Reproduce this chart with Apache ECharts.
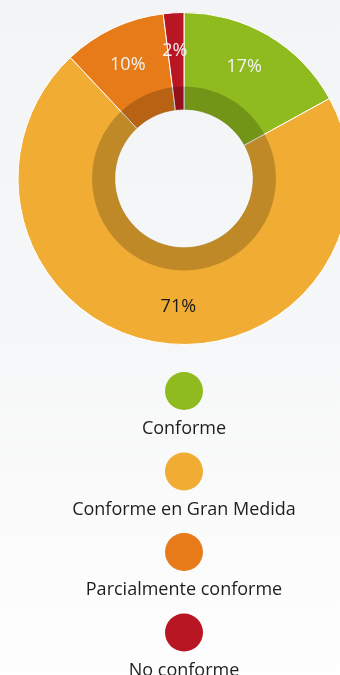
<!DOCTYPE html>
<html>
<head>
<meta charset="utf-8">
<script src="https://cdn.jsdelivr.net/npm/echarts@6/dist/echarts.min.js"></script>
<style>
  html, body { margin: 0; padding: 0; }
  body { background: linear-gradient(to bottom, #f3f4f6 0%, #f6f7f8 50%, #fefefe 100%); }
  #chart { width: 340px; height: 675px; }
</style>
</head>
<body>
<div id="chart"></div>
<script>
// Compliance breakdown (percent of total)
const categories = ['Conforme', 'Conforme en Gran Medida', 'Parcialmente conforme', 'No conforme'];
const values = [17, 71, 10, 2];
const colors = ['#8fbb1f', '#f1ac33', '#e77b19', '#b81623'];
const labelColors = ['#f2f2f2', '#1a1a1a', '#f2f2f2', '#f2f2f2'];
const labelOffsets = [[-7, 2], [15, -2], [0, 6], [-1, 4]];

const cx = 184, cy = 178.5;
const fontFamily = '"Open Sans", "Noto Sans", sans-serif';

const sliceData = categories.map((name, i) => ({
  name, value: values[i], itemStyle: { color: colors[i] }
}));

const labelData = categories.map((name, i) => ({
  name, value: values[i],
  label: { color: labelColors[i], offset: labelOffsets[i] }
}));

// Legend: circle swatch with its name centred underneath
const legendTop = 391, legendStep = 80.5;
const legendGraphics = [];
categories.forEach((name, i) => {
  const y = legendTop + i * legendStep;
  legendGraphics.push({
    type: 'circle', shape: { cx: cx, cy: y, r: 19 },
    style: { fill: colors[i] }
  });
  legendGraphics.push({
    type: 'text', x: cx, y: y + 38,
    style: {
      text: name, fill: '#1e1e1e', font: '18px ' + fontFamily,
      textAlign: 'center', textVerticalAlign: 'middle'
    }
  });
});

const chart = echarts.init(document.getElementById('chart'), null, { renderer: 'canvas' });
chart.setOption({
  backgroundColor: 'transparent',
  animation: false,
  series: [
    {
      type: 'pie', center: [cx, cy], radius: [68.5, 166],
      startAngle: 90, clockwise: true, silent: true,
      label: { show: false }, labelLine: { show: false },
      itemStyle: { borderColor: '#ffffff', borderWidth: 1 },
      data: sliceData
    },
    {
      // darker inner band over the slices
      type: 'pie', center: [cx, cy], radius: [68.5, 92],
      silent: true, label: { show: false }, labelLine: { show: false },
      itemStyle: { color: 'rgba(0,0,0,0.2)', borderWidth: 0 },
      data: [{ value: 1, name: 'band' }]
    },
    {
      // percentage labels
      type: 'pie', center: [cx, cy], radius: [92, 166],
      startAngle: 90, clockwise: true, silent: true,
      itemStyle: { color: 'rgba(0,0,0,0)', borderWidth: 0 },
      labelLine: { show: false },
      label: {
        show: true, position: 'inside', formatter: '{c}%',
        fontFamily: fontFamily, fontSize: 18
      },
      data: labelData
    }
  ],
  graphic: legendGraphics
});
</script>
</body>
</html>
